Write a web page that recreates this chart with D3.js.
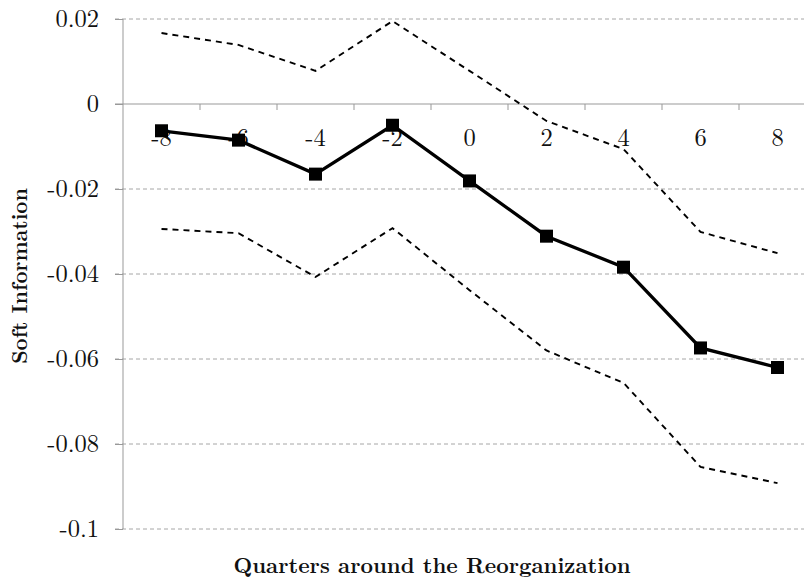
<!DOCTYPE html>
<html>
<head>
<meta charset="utf-8">
<script src="https://cdn.jsdelivr.net/npm/d3@7"></script>
<style>
  html, body { margin: 0; padding: 0; background: #fff; }
  svg { display: block; }
</style>
</head>
<body>
<svg id="chart" width="804" height="582"></svg>
<script>
const quarters = ["-8", "-6", "-4", "-2", "0", "2", "4", "6", "8"];
const estimate = [-0.0063, -0.0085, -0.0165, -0.0050, -0.0181, -0.0311, -0.0384, -0.0574, -0.0620];
const upperCI  = [0.0167, 0.0139, 0.0078, 0.0195, 0.0078, -0.0040, -0.0106, -0.0301, -0.0351];
const lowerCI  = [-0.0294, -0.0304, -0.0407, -0.0292, -0.0438, -0.0580, -0.0656, -0.0854, -0.0892];
const yTicks   = [0.02, 0, -0.02, -0.04, -0.06, -0.08, -0.1];
const yTickLabels = ["0.02", "0", "-0.02", "-0.04", "-0.06", "-0.08", "-0.1"];
const xTitle = "Quarters around the Reorganization";
const yTitle = "Soft Information";

(function () {
const svg = d3.select("#chart");
const pLeft = 123, pRight = 816, pTop = 19, pBottom = 529;
const serif = '"Latin Modern Roman", "Liberation Serif", serif';

const x = d3.scaleBand().domain(quarters).range([pLeft, pRight]).padding(0);
const y = d3.scaleLinear().domain([-0.1, 0.02]).range([pBottom, pTop]);
const cx = d => x(d) + x.bandwidth() / 2;

// gridlines
svg.append("g").selectAll("line").data(yTicks.filter(v => v !== 0)).join("line")
  .attr("x1", pLeft - 8).attr("x2", 804)
  .attr("y1", d => y(d)).attr("y2", d => y(d))
  .attr("stroke", "#a6a6a6").attr("stroke-width", 1)
  .attr("stroke-dasharray", "4,3");

// y axis
const yAxis = d3.axisLeft(y).tickValues(yTicks)
  .tickFormat((d, i) => yTickLabels[i]).tickSize(8).tickPadding(16);
const gy = svg.append("g").attr("transform", `translate(${pLeft},0)`).call(yAxis);
gy.select(".domain").attr("stroke", "#999").attr("d", `M0,${pTop}V${pBottom}`);
gy.selectAll(".tick line").attr("stroke", "#999");
gy.selectAll(".tick text").style("font-family", serif).style("font-size", "24.5px").attr("fill", "#111");

// x axis at zero line
const xAxis = d3.axisBottom(x).tickSize(0).tickPadding(0);
const gx = svg.append("g").attr("transform", `translate(0,${y(0)})`).call(xAxis);
gx.select(".domain").attr("stroke", "#999").attr("d", `M${pLeft - 8},0H804`);
gx.selectAll(".tick text").style("font-family", serif).style("font-size", "24.5px")
  .attr("fill", "#111").attr("dy", null).attr("y", 42);
// boundary ticks between categories
svg.append("g").selectAll("line").data(quarters.slice(1)).join("line")
  .attr("x1", d => x(d)).attr("x2", d => x(d))
  .attr("y1", y(0)).attr("y2", y(0) + 6)
  .attr("stroke", "#999");

// CI lines
const line = d3.line().x((d, i) => cx(quarters[i])).y(d => y(d));
[upperCI, lowerCI].forEach(arr => {
  svg.append("path").datum(arr).attr("d", line)
    .attr("fill", "none").attr("stroke", "#000").attr("stroke-width", 1.9)
    .attr("stroke-dasharray", "6,5");
});

// estimate line
svg.append("path").datum(estimate).attr("d", line)
  .attr("fill", "none").attr("stroke", "#000").attr("stroke-width", 3.3);
svg.append("g").selectAll("rect").data(estimate).join("rect")
  .attr("x", (d, i) => cx(quarters[i]) - 6.5).attr("y", d => y(d) - 6.5)
  .attr("width", 13).attr("height", 13).attr("fill", "#000");

// titles
svg.append("text").attr("x", 432).attr("y", 573).attr("text-anchor", "middle")
  .style("font-family", serif).style("font-weight", "bold").style("font-size", "21.7px")
  .attr("fill", "#111").text(xTitle);
svg.append("text").attr("transform", "translate(27,276) rotate(-90)").attr("text-anchor", "middle")
  .style("font-family", serif).style("font-weight", "bold").style("font-size", "21px")
  .attr("fill", "#111").text(yTitle);
})();
</script>
</body>
</html>
